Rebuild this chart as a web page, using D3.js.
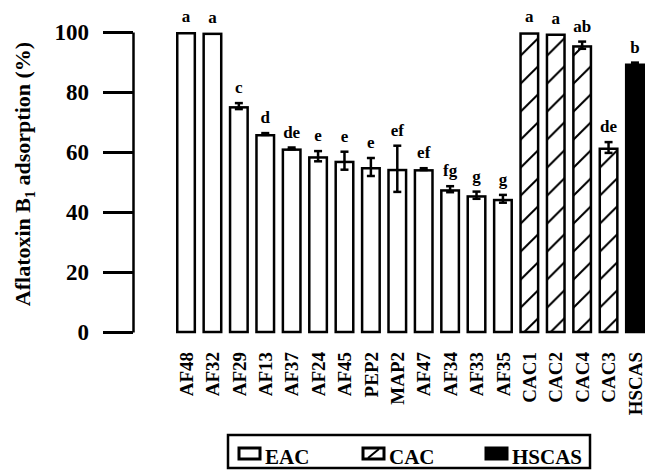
<!DOCTYPE html>
<html>
<head>
<meta charset="utf-8">
<script src="https://cdn.jsdelivr.net/npm/d3@7"></script>
<style>
  body { margin: 0; background: #fff; }
  text { font-family: "Liberation Serif", "Times New Roman", serif; font-weight: bold; fill: #000; }
</style>
</head>
<body>
<svg id="chart"></svg>
<script>
// adsorbents, in plot order
var categories = ["AF48", "AF32", "AF29", "AF13", "AF37", "AF24", "AF45", "PEP2", "MAP2",
                  "AF47", "AF34", "AF33", "AF35", "CAC1", "CAC2", "CAC4", "CAC3", "HSCAS"];
var groups = ["EAC", "EAC", "EAC", "EAC", "EAC", "EAC", "EAC", "EAC", "EAC",
              "EAC", "EAC", "EAC", "EAC", "CAC", "CAC", "CAC", "CAC", "HSCAS"];
var values = [100, 99.8, 75.3, 66, 61.2, 58.6, 57.1, 55, 54.4,
              54.3, 47.6, 45.6, 44.4, 99.9, 99.5, 95.6, 61.5, 89.5];
var errors = [0, 0, 1, 0.3, 0.3, 1.7, 3, 3, 7.7,
              0.3, 1, 1.2, 1.3, 0, 0, 1.2, 1.8, 0.3];
var letters = ["a", "a", "c", "d", "de", "e", "e", "e", "ef",
               "ef", "fg", "g", "g", "a", "a", "ab", "de", "b"];
var yTicks = [0, 20, 40, 60, 80, 100];
var legendItems = ["EAC", "CAC", "HSCAS"];

var svgWidth = 645, svgHeight = 474;
var svg = d3.select("#chart").attr("width", svgWidth).attr("height", svgHeight);

var x = d3.scaleBand().domain(categories).range([176, 645]).paddingInner(0.24).paddingOuter(0);
var y = d3.scaleLinear().domain([0, 100]).range([332, 32]);
var bw = x.bandwidth(), sw = 2.5;

// diagonal hatch for CAC bars, tile = one band step
var defs = svg.append("defs");
var hatch = defs.append("pattern").attr("id", "hatch")
    .attr("patternUnits", "userSpaceOnUse")
    .attr("x", x("CAC1")).attr("y", 4)
    .attr("width", x.step()).attr("height", 28);
hatch.append("rect").attr("width", x.step()).attr("height", 28).attr("fill", "#fff");
hatch.append("line").attr("x1", 0).attr("y1", 25).attr("x2", bw).attr("y2", 5)
    .attr("stroke", "#000").attr("stroke-width", 2);

var legHatch = defs.append("pattern").attr("id", "leghatch")
    .attr("patternUnits", "objectBoundingBox").attr("width", 1).attr("height", 1);
legHatch.append("rect").attr("width", 21).attr("height", 11).attr("fill", "#fff");
legHatch.append("line").attr("x1", 5).attr("y1", 10).attr("x2", 16).attr("y2", 1)
    .attr("stroke", "#000").attr("stroke-width", 2);

function fillOf(g) {
    if (g == "CAC") return "url(#hatch)";
    if (g == "HSCAS") return "#000";
    return "#fff";
}

// bars
svg.selectAll(".bar").data(categories).enter().append("rect")
    .attr("class", "bar")
    .attr("x", function (d) { return x(d) + sw / 2; })
    .attr("width", bw - sw)
    .attr("y", function (d, i) { return y(values[i]) + sw / 2; })
    .attr("height", function (d, i) { return y(0) - y(values[i]) - sw / 2; })
    .attr("fill", function (d, i) { return fillOf(groups[i]); })
    .attr("stroke", "#000").attr("stroke-width", sw);

// error bars
var eb = svg.selectAll(".err").data(categories).enter().append("g").attr("class", "err")
    .filter(function (d, i) { return errors[i] > 0; });
eb.append("line")
    .attr("x1", function (d) { return x(d) + bw / 2; })
    .attr("x2", function (d) { return x(d) + bw / 2; })
    .attr("y1", function (d) { var i = categories.indexOf(d); return y(values[i] + errors[i]); })
    .attr("y2", function (d) { var i = categories.indexOf(d); return y(values[i] - errors[i]); })
    .attr("stroke", "#000").attr("stroke-width", 2.5);
[1, -1].forEach(function (s) {
    eb.append("line")
        .attr("x1", function (d) { return x(d) + bw / 2 - 4; })
        .attr("x2", function (d) { return x(d) + bw / 2 + 4; })
        .attr("y1", function (d) { var i = categories.indexOf(d); return y(values[i] + s * errors[i]); })
        .attr("y2", function (d) { var i = categories.indexOf(d); return y(values[i] + s * errors[i]); })
        .attr("stroke", "#000").attr("stroke-width", 2.5);
});

// significance letters
svg.selectAll(".letter").data(categories).enter().append("text")
    .attr("class", "letter")
    .attr("x", function (d) { return x(d) + bw / 2; })
    .attr("y", function (d, i) { return y(values[i] + errors[i]) - 10; })
    .attr("text-anchor", "middle")
    .style("font-size", "17px")
    .text(function (d, i) { return letters[i]; });

// y axis
var yAxis = svg.append("g").attr("transform", "translate(133,0)")
    .call(d3.axisLeft(y).tickValues(yTicks).tickSize(30).tickSizeOuter(0).tickPadding(14));
yAxis.select(".domain").attr("stroke-width", 2.5);
yAxis.selectAll(".tick line").attr("stroke-width", 3);
yAxis.selectAll(".tick text")
    .style("font-family", "'Liberation Serif', serif").style("font-weight", "bold")
    .style("font-size", "23px").attr("fill", "#000");

// x labels, rotated
svg.selectAll(".xlab").data(categories).enter().append("text")
    .attr("class", "xlab")
    .attr("transform", function (d) { return "translate(" + (x(d) + bw / 2) + ",352) rotate(-90)"; })
    .attr("dy", "0.35em")
    .attr("text-anchor", "end")
    .style("font-size", "19px")
    .text(function (d) { return d; });

// y axis title
var yt = svg.append("text")
    .attr("transform", "translate(30,174) rotate(-90)")
    .attr("text-anchor", "middle")
    .style("font-size", "22px");
yt.append("tspan").text("Aflatoxin B");
yt.append("tspan").attr("dy", 5).style("font-size", "14px").text("1");
yt.append("tspan").attr("dy", -5).text(" adsorption (%)");

// legend
var leg = svg.append("g");
leg.append("rect").attr("x", 228).attr("y", 435).attr("width", 362).attr("height", 33)
    .attr("fill", "none").attr("stroke", "#000").attr("stroke-width", 2.5);
var legX = [239, 363, 486];
legendItems.forEach(function (name, i) {
    leg.append("rect").attr("x", legX[i]).attr("y", 448).attr("width", 21).attr("height", 11)
        .attr("fill", name == "CAC" ? "url(#leghatch)" : fillOf(name))
        .attr("stroke", "#000").attr("stroke-width", 3);
    leg.append("text").attr("x", legX[i] + 26).attr("y", 464)
        .style("font-size", "21px").text(name);
});
</script>
</body>
</html>
